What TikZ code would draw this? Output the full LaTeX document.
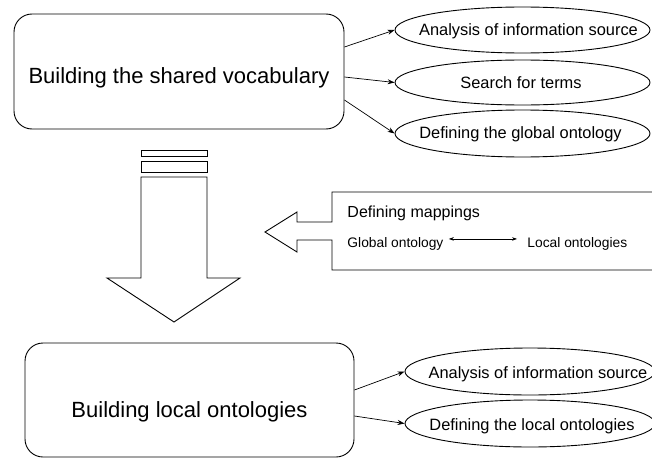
\documentclass[tikz,border=0pt]{standalone}
\usepackage{fontspec}
\setmainfont{Liberation Sans}
\usetikzlibrary{shapes.geometric,arrows.meta,calc}
\begin{document}
\begin{tikzpicture}[x=1pt,y=-1pt,
  line width=0.9pt,
  stage/.style={draw,rounded corners=18pt,inner sep=0pt},
  stagetext/.style={anchor=base,inner sep=0pt,font=\fontsize{22}{26}\selectfont},
  task/.style={draw,ellipse,inner sep=0pt},
  tasktext/.style={anchor=base,inner sep=0pt,font=\fontsize{16.4}{20}\selectfont},
  conn/.style={-{Stealth[length=7pt,width=5pt]},line width=0.7pt},
  block/.style={draw,line width=0.9pt,fill=white,line join=miter},
  maptext/.style={anchor=base west,inner sep=0pt}
]
\clip (0,0) rectangle (652,460);
\fill[white] (0,0) rectangle (652,460);

% first stage and its tasks
\node[stage,minimum width=330pt,minimum height=115pt] (vocab) at (179,71.5) {};
\node[stagetext] (vocabt) at ($(vocab.center)+(0,11.5)$) {Building the shared vocabulary};

\node[task,minimum width=255pt,minimum height=46pt] (e1) at (522.5,30) {};
\node[task,minimum width=255pt,minimum height=45pt] (e2) at (522.5,82.5) {};
\node[task,minimum width=255pt,minimum height=47pt] (e3) at (522.5,133.5) {};
\node[tasktext] (e1t) at ($(e1.center)+(6,6)$) {Analysis of information source};
\node[tasktext] (e2t) at ($(e2.center)+(-1.5,5.5)$) {Search for terms};
\node[tasktext] (e3t) at ($(e3.center)+(-2,4.5)$) {Defining the global ontology};

\draw[conn] ($(vocab.east)+(0,-24.5)$) -- (e1.west);
\draw[conn] ($(vocab.east)+(0,5.5)$) -- (e2.west);
\draw[conn] ($(vocab.east)+(0,28.5)$) -- (e3.west);

% block arrow leading down to the second stage
\draw[block] (141,150) rectangle (207,156);
\draw[block] (141,161) rectangle (207,172);
\draw[block] (141,177) -- (141,278) -- (107,278) -- (174,322) -- (240,278)
  -- (207,278) -- (207,177) -- cycle;

% mapping panel with its arrow pointing left
\draw[block] (700,192) -- (332,192) -- (332,222) -- (297,222) -- (297,212)
  -- (265,232) -- (297,252) -- (297,240) -- (332,240) -- (332,270) -- (700,270);
\node[maptext,font=\fontsize{16}{19}\selectfont] (mapt) at (347,217) {Defining mappings};
\node[maptext,font=\fontsize{13.8}{16}\selectfont] (glob) at (347,247) {Global ontology};
\node[maptext,font=\fontsize{13.8}{16}\selectfont] (loc) at (527,247) {Local ontologies};
\draw[{Stealth[length=5pt,width=3.5pt]}-{Stealth[length=5pt,width=3.5pt]},line width=0.6pt,
  shorten <=5pt,shorten >=10pt] ($(glob.east)+(0,-4.5)$) -- ($(loc.west)+(0,-4.5)$);

% second stage and its tasks
\node[stage,minimum width=329pt,minimum height=114pt] (local) at (189.5,400) {};
\node[stagetext] (localt) at ($(local.center)+(0,17)$) {Building local ontologies};

\node[task,minimum width=250pt,minimum height=47pt] (f1) at (530,371.5) {};
\node[task,minimum width=250pt,minimum height=47pt] (f2) at (530,423.5) {};
\node[tasktext] (f1t) at ($(f1.center)+(8,6.5)$) {Analysis of information source};
\node[tasktext] (f2t) at ($(f2.center)+(2,6.5)$) {Defining the local ontologies};

\draw[conn] ($(local.east)+(0,-10)$) -- (f1.west);
\draw[conn] ($(local.east)+(0,16)$) -- (f2.west);
\end{tikzpicture}
\end{document}
